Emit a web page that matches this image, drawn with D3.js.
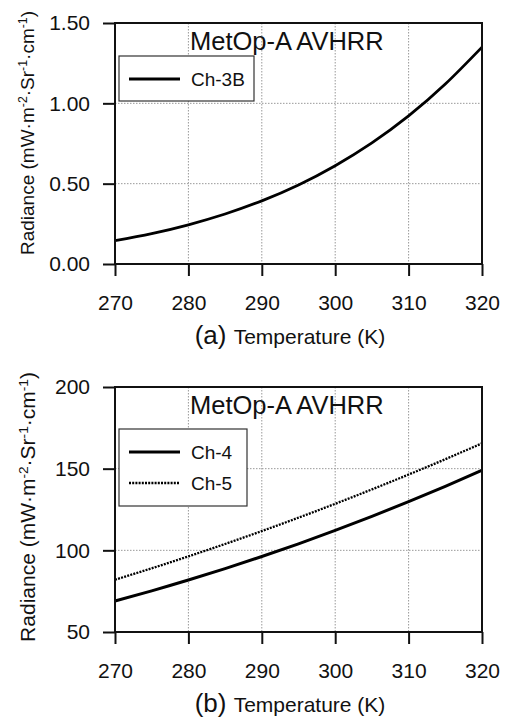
<!doctype html>
<html lang="en">
<head>
<meta charset="utf-8">
<title>MetOp-A AVHRR radiance vs temperature</title>
<script src="https://cdn.jsdelivr.net/npm/d3@7/dist/d3.min.js"></script>
<style>
  body { margin: 0; background: #fff; }
  svg text { font-family: "Liberation Sans", Arial, sans-serif; fill: #111; }
</style>
</head>
<body>
<script>
// values
var temps = [270, 275, 280, 285, 290, 295, 300, 305, 310, 315, 320];
var ch3b  = [0.145, 0.189, 0.244, 0.311, 0.393, 0.492, 0.612, 0.754, 0.922, 1.12, 1.35];
var ch4   = [69, 75.2, 81.8, 88.8, 96.2, 104, 112.2, 120.8, 129.8, 139.2, 149];
var ch5   = [82, 89, 96.3, 103.9, 111.8, 120, 128.5, 137.3, 146.4, 155.8, 165.5];

var xTicks  = [270, 280, 290, 300, 310, 320];
var yTicksA = [0, 0.5, 1.0, 1.5];
var yTicksB = [50, 100, 150, 200];

var svg = d3.select("body").append("svg")
    .attr("width", 511).attr("height", 719);

var panels = [
  { top: 23, bottom: 264, domain: [0, 1.5], ticks: yTicksA, fmt: d3.format(".2f"),
    label: "(a)", labelSize: 19, labelY: 133,
    series: [{ name: "Ch-3B", values: ch3b, dash: null, width: 2.8 }],
    legend: { x: 119, y: 56, w: 135, h: 45 } },
  { top: 387, bottom: 632, domain: [50, 200], ticks: yTicksB, fmt: d3.format("d"),
    label: "(b)", labelSize: 21, labelY: 507,
    series: [{ name: "Ch-4", values: ch4, dash: null, width: 3 },
             { name: "Ch-5", values: ch5, dash: "2,1.2", width: 2.3 }],
    legend: { x: 119, y: 429, w: 128, h: 77 } }
];

var left = 115, right = 482;

panels.forEach(function(p) {
  var g = svg.append("g");
  var x = d3.scaleLinear().domain([270, 320]).range([left, right]);
  var y = d3.scaleLinear().domain(p.domain).range([p.bottom, p.top]);

  // grid
  g.append("g").selectAll("line")
    .data(xTicks.slice(1, -1)).enter().append("line")
    .attr("x1", function(d){return x(d);}).attr("x2", function(d){return x(d);})
    .attr("y1", p.top).attr("y2", p.bottom)
    .attr("stroke", "#999").attr("stroke-width", 1).attr("stroke-dasharray", "1.5,1.5");
  g.append("g").selectAll("line")
    .data(p.ticks.slice(1, -1)).enter().append("line")
    .attr("y1", function(d){return y(d);}).attr("y2", function(d){return y(d);})
    .attr("x1", left).attr("x2", right)
    .attr("stroke", "#999").attr("stroke-width", 1).attr("stroke-dasharray", "1.5,1.5");

  // curves
  var line = d3.line()
    .x(function(d, i){return x(temps[i]);})
    .y(function(d){return y(d);})
    .curve(d3.curveNatural);
  p.series.forEach(function(s) {
    g.append("path").attr("d", line(s.values))
      .attr("fill", "none").attr("stroke", "#000")
      .attr("stroke-width", s.width)
      .attr("stroke-dasharray", s.dash);
  });

  // frame
  g.append("rect").attr("x", left).attr("y", p.top)
    .attr("width", right - left).attr("height", p.bottom - p.top)
    .attr("fill", "none").attr("stroke", "#111").attr("stroke-width", 2);

  // axes
  var xAxis = g.append("g").attr("transform", "translate(0," + p.bottom + ")")
    .call(d3.axisBottom(x).tickValues(xTicks).tickSize(12).tickSizeOuter(0).tickPadding(19));
  var yAxis = g.append("g").attr("transform", "translate(" + left + ",0)")
    .call(d3.axisLeft(y).tickValues(p.ticks).tickFormat(p.fmt).tickSize(12).tickSizeOuter(0).tickPadding(13));
  [xAxis, yAxis].forEach(function(a) {
    a.select(".domain").remove();
    a.selectAll("line").attr("stroke", "#111").attr("stroke-width", 2);
    a.selectAll("text").attr("font-size", 21).attr("fill", "#111")
      .attr("font-family", "'Liberation Sans', Arial, sans-serif");
  });

  // panel title inside
  g.append("text").attr("x", 190).attr("y", p.top + 27)
    .attr("font-size", 25.5).text("MetOp-A AVHRR");

  // legend
  var lg = g.append("g");
  lg.append("rect").attr("x", p.legend.x).attr("y", p.legend.y)
    .attr("width", p.legend.w).attr("height", p.legend.h)
    .attr("fill", "#fff").attr("stroke", "#333").attr("stroke-width", 1.2);
  p.series.forEach(function(s, i) {
    var cy = p.legend.y + 23 + i * 31;
    lg.append("line").attr("x1", p.legend.x + 10).attr("x2", p.legend.x + 61)
      .attr("y1", cy).attr("y2", cy)
      .attr("stroke", "#000").attr("stroke-width", s.width)
      .attr("stroke-dasharray", s.dash);
    lg.append("text").attr("x", p.legend.x + 72).attr("y", cy)
      .attr("dy", "0.36em").attr("font-size", 19).text(s.name);
  });

  // x axis title
  var xt = g.append("text").attr("x", 290).attr("y", p.bottom + 80)
    .attr("text-anchor", "middle");
  xt.append("tspan").attr("font-size", 26).text(p.label + " ");
  xt.append("tspan").attr("font-size", 21).text("Temperature (K)");

  // y axis title
  var yt = g.append("text")
    .attr("transform", "translate(27," + p.labelY + ") rotate(-90)")
    .attr("text-anchor", "middle").attr("dy", "0.36em")
    .attr("font-size", p.labelSize);
  yt.append("tspan").text("Radiance (mW\u00b7m");
  yt.append("tspan").attr("font-size", "65%").attr("baseline-shift", "super").text("-2");
  yt.append("tspan").text("\u00b7Sr");
  yt.append("tspan").attr("font-size", "65%").attr("baseline-shift", "super").text("-1");
  yt.append("tspan").text("\u00b7cm");
  yt.append("tspan").attr("font-size", "65%").attr("baseline-shift", "super").text("-1");
  yt.append("tspan").text(")");
});
</script>
</body>
</html>
